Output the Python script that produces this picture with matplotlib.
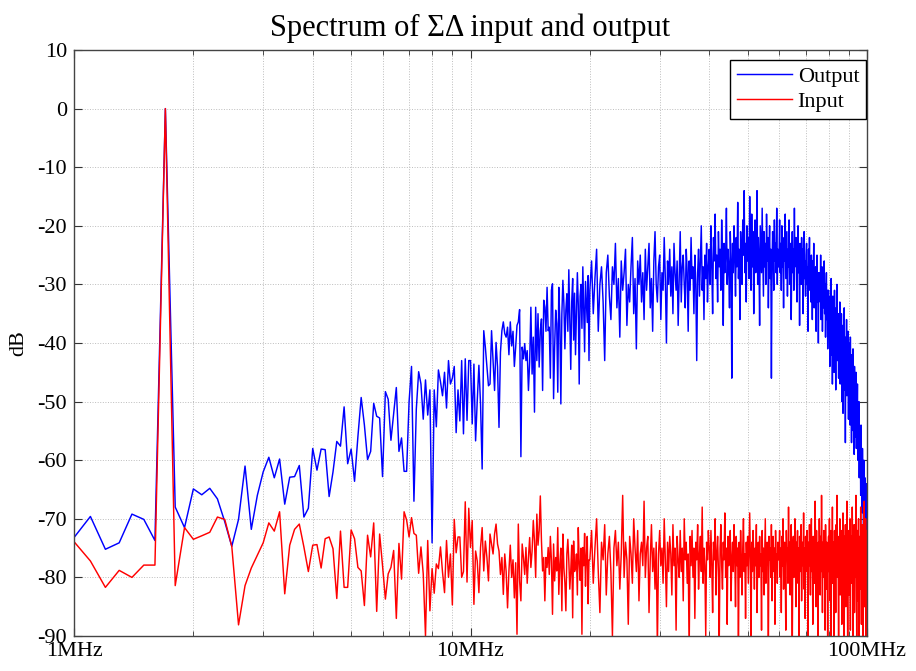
import numpy as np
import matplotlib
matplotlib.use("Agg")
import matplotlib.pyplot as plt
from matplotlib.ticker import LogLocator, NullFormatter

plt.rcParams['font.family'] = ['Liberation Serif', 'DejaVu Serif']
plt.rcParams['axes.unicode_minus'] = False

# spectrum in dB, bins of 0.1 MHz from 1.0 MHz up to 19.9 MHz
out_1_10 = [-73.2, -69.6, -75.2, -74.1, -69.2, -70.1, -73.7, 0.0, -68.0, -71.5,
            -64.9, -65.9, -64.8, -66.6, -70.5, -74.7, -70.1, -61.0, -71.8, -66.0,
            -62.0, -59.5, -63.0, -59.8, -67.5, -62.9, -62.8, -60.9, -69.7, -68.2,
            -58.0, -61.7, -58.1, -58.2, -66.2, -62.0, -56.8, -57.6, -50.9, -60.6,
            -58.1, -63.6, -56.0, -49.3, -54.0, -59.9, -58.5, -50.3, -52.5, -52.8,
            -62.8, -48.3, -49.6, -56.6, -52.0, -47.6, -58.5, -56.2, -61.9, -61.9,
            -50.0, -44.0, -67.0, -51.3, -44.9, -47.0, -53.0, -46.3, -52.3, -48.0,
            -74.1, -48.0, -54.3, -44.6, -46.6, -49.0, -45.0, -51.1, -43.0, -47.0,
            -46.0, -44.0, -55.3, -48.0, -53.3, -43.0, -55.5, -42.7, -53.2, -43.0]
out_10_20 = [-43.0, -53.8, -43.6, -56.7, -49.8, -43.8, -50.4, -61.5, -37.9, -40.7,
             -44.1, -47.3, -47.0, -37.9, -43.0, -48.1, -39.9, -44.1, -54.4, -41.6,
             -37.9, -36.4, -38.4, -39.0, -37.3, -42.0, -36.4, -40.5, -38.0, -44.0,
             -40.7, -37.0, -36.4, -34.3, -59.4, -40.7, -42.7, -40.1, -43.0, -41.3,
             -48.1, -43.3, -33.9, -45.3, -39.0, -51.8, -33.9, -43.0, -35.0, -44.1,
             -37.9, -35.9, -48.1, -32.7, -33.9, -38.0, -30.5, -37.9, -37.3, -46.0,
             -31.0, -29.9, -49.5, -40.7, -34.4, -36.7, -48.4, -30.5, -36.2, -50.4,
             -35.0, -29.3, -33.3, -41.0, -34.4, -31.6, -38.0, -27.5, -36.0, -44.5,
             -33.0, -29.0, -39.5, -31.5, -42.0, -35.0, -28.0, -33.5, -47.0, -32.0,
             -30.0, -37.5, -27.0, -34.0, -41.5, -29.5, -33.0, -36.5, -28.5, -43.0]
# bins of 0.2 MHz from 20 MHz up to 100 MHz
out_20_40 = [-31, -26, -35, -29, -24, -38, -30, -27, -33, -43, -28, -25, -32, -36, -27, -30, -23, -34, -29, -39,
             -26, -31, -28, -24, -37, -30, -33, -27, -22, -35, -29, -41, -26, -30, -25, -33, -28, -36, -24, -31,
             -27, -23, -34, -29, -38, -26, -21, -30, -33, -27, -25, -36, -28, -31, -22, -29, -40, -26, -30, -24,
             -32, -27, -35, -23, -28, -31, -26, -37, -29, -21, -33, -27, -25, -30, -34, -24, -28, -38, -26, -31,
             -22, -29, -27, -35, -25, -30, -43, -28, -24, -32, -26, -20, -31, -27, -36, -25, -29, -23, -33, -27]
out_40_60 = [-24, -30, -20, -27, -35, -22, -26, -18, -29, -25, -33, -21, -27, -24, -31, -19, -26, -37, -23, -28,
             -25, -17, -30, -24, -27, -34, -21, -26, -46, -23, -28, -20, -25, -32, -22, -27, -16, -29, -24, -36,
             -21, -26, -30, -19, -25, -14, -28, -23, -33, -20, -26, -22, -29, -15, -24, -31, -18, -27, -21, -35,
             -25, -19, -28, -23, -14, -30, -22, -26, -37, -20, -24, -28, -17, -25, -32, -21, -27, -23, -30, -18,
             -26, -22, -34, -25, -20, -29, -24, -46, -27, -21, -25, -31, -19, -26, -23, -28, -17, -30, -24, -27]
out_60_80 = [-25, -19, -28, -23, -31, -20, -27, -24, -34, -22, -26, -18, -29, -25, -21, -32, -24, -27, -19, -30,
             -25, -23, -36, -26, -21, -28, -24, -31, -17, -27, -26, -22, -29, -33, -24, -20, -28, -25, -37, -23,
             -27, -30, -22, -26, -24, -35, -28, -21, -29, -26, -32, -25, -23, -30, -27, -38, -24, -28, -22, -31,
             -27, -33, -25, -29, -36, -26, -30, -23, -34, -28, -31, -27, -38, -29, -25, -33, -30, -40, -28, -32,
             -28, -33, -25, -36, -30, -27, -38, -31, -34, -29, -26, -35, -30, -39, -32, -28, -36, -31, -41, -33]
out_80_100 = [-31, -38, -34, -44, -32, -37, -29, -42, -35, -47, -32, -39, -35, -45, -31, -41, -36, -48, -34, -40,
              -30, -43, -37, -35, -46, -35, -42, -33, -47, -38, -44, -35, -50, -39, -37, -52, -38, -43, -34, -48,
              -40, -57, -39, -45, -36, -49, -41, -46, -38, -53, -40, -48, -43, -54, -39, -50, -45, -57, -42, -52,
              -47, -41, -55, -46, -59, -44, -51, -48, -56, -45, -58, -50, -53, -47, -60, -52, -58, -50, -63, -55,
              -60, -57, -66, -54, -62, -59, -69, -58, -64, -61, -74, -60, -67, -70, -63, -71, -65, -73, -64, -69, -67]

in_1_10 = [-73.9, -77.2, -81.7, -78.8, -80.0, -77.9, -77.9, 0.0, -81.4, -71.5,
           -73.5, -72.9, -72.3, -69.7, -70.1, -74.7, -88.1, -81.4, -78.4, -76.2,
           -74.1, -70.7, -72.1, -68.8, -82.8, -74.5, -71.8, -70.9, -74.8, -79.0,
           -74.5, -74.4, -78.4, -73.4, -73.1, -75.1, -83.6, -72.1, -81.7, -81.7,
           -71.9, -73.4, -78.3, -78.9, -84.8, -72.8, -76.5, -70.7, -85.8, -72.6,
           -78.0, -83.7, -79.4, -78.3, -75.4, -87.0, -74.2, -80.3, -68.8, -70.2,
           -73.1, -69.8, -72.5, -72.8, -79.3, -74.8, -79.4, -90.0, -73.7, -85.7,
           -78.5, -82.7, -77.7, -78.5, -74.8, -79.1, -82.6, -73.7, -80.0, -76.0,
           -84.7, -70.1, -75.8, -73.1, -73.1, -80.0, -79.0, -67.1, -80.8, -68.2]
in_10_20 = [-74.9, -70.3, -84.6, -75.5, -77.2, -82.6, -74.9, -71.5, -78.9, -73.8,
            -76.6, -80.6, -72.6, -74.3, -76.0, -72.6, -70.9, -74.3, -75.5, -79.5,
            -76.6, -82.9, -76.0, -79.0, -85.2, -78.9, -74.5, -80.0, -77.0, -83.5,
            -77.5, -89.7, -70.9, -80.6, -84.0, -74.3, -76.6, -79.5, -74.9, -81.0,
            -76.6, -73.2, -78.3, -75.5, -70.3, -73.8, -80.0, -69.2, -74.5, -72.0,
            -66.1, -73.8, -78.9, -76.6, -84.0, -76.6, -78.3, -74.9, -79.5, -73.0,
            -77.2, -86.3, -74.3, -80.6, -76.6, -78.9, -71.5, -82.9, -77.7, -75.0,
            -85.7, -72.6, -78.3, -81.0, -85.7, -76.0, -73.5, -77.2, -82.0, -78.9,
            -74.5, -86.9, -73.8, -79.0, -78.3, -76.0, -83.0, -71.5, -77.5, -80.5,
            -75.0, -89.7, -74.9, -78.0, -72.5, -81.5, -76.5, -73.0, -84.5, -77.0]
in_20_40 = [-77, -72, -81, -75, -70, -79, -86, -74, -77, -71, -83, -76, -73, -79, -90, -75, -72, -78, -74, -82,
            -76, -66, -80, -74, -77, -88, -73, -76, -81, -70, -75, -79, -72, -84, -76, -74, -78, -67, -80, -75,
            -73, -86, -77, -71, -79, -75, -82, -74, -92, -76, -72, -78, -75, -81, -70, -77, -85, -74, -79, -73,
            -76, -83, -71, -78, -75, -89, -73, -77, -80, -72, -79, -75, -84, -70, -77, -74, -81, -76, -93, -73,
            -78, -72, -80, -75, -87, -74, -77, -71, -82, -76, -73, -79, -68, -81, -75, -78, -90, -74, -77, -72]
in_40_60 = [-75, -80, -72, -78, -86, -74, -77, -70, -83, -76, -73, -79, -91, -75, -71, -78, -82, -74, -77, -69,
            -80, -75, -88, -73, -78, -76, -72, -84, -77, -74, -79, -71, -76, -85, -73, -78, -75, -93, -74, -80,
            -72, -77, -83, -75, -70, -79, -76, -87, -74, -78, -73, -81, -75, -69, -77, -90, -74, -79, -72, -76,
            -82, -75, -78, -71, -86, -77, -74, -80, -73, -78, -76, -89, -72, -79, -75, -83, -77, -70, -81, -76,
            -74, -78, -92, -73, -77, -75, -80, -71, -84, -76, -73, -79, -75, -88, -72, -78, -76, -81, -74, -77]
in_60_80 = [-76, -72, -80, -75, -86, -73, -78, -70, -82, -76, -74, -79, -89, -72, -77, -75, -81, -68, -78, -74,
            -83, -76, -71, -79, -92, -75, -73, -80, -77, -70, -78, -85, -74, -76, -72, -81, -75, -90, -73, -79,
            -76, -71, -84, -77, -74, -78, -69, -82, -75, -87, -73, -79, -76, -72, -80, -94, -74, -78, -71, -77,
            -83, -75, -70, -79, -76, -88, -73, -78, -74, -81, -67, -77, -85, -72, -79, -75, -91, -74, -78, -70,
            -76, -83, -73, -79, -66, -77, -86, -74, -80, -72, -78, -75, -89, -71, -77, -82, -74, -79, -93, -76]
in_80_100 = [-73, -79, -70, -84, -76, -72, -90, -75, -78, -68, -81, -74, -77, -93, -72, -79, -75, -86, -71, -77,
             -66, -80, -74, -78, -95, -73, -76, -70, -83, -75, -79, -72, -88, -74, -77, -69, -82, -76, -91, -73,
             -78, -71, -85, -75, -80, -67, -77, -94, -74, -79, -72, -83, -76, -70, -89, -75, -78, -73, -81, -68,
             -77, -92, -74, -79, -71, -86, -76, -73, -80, -66, -78, -90, -75, -72, -84, -77, -70, -95, -74, -79,
             -73, -82, -68, -78, -88, -75, -71, -80, -76, -93, -72, -79, -67, -85, -74, -77, -70, -90, -75, -72, -74]


def freq_axis(fine, coarse):
    # fine part starts at bin 10 (1.0 MHz), coarse part at 20 MHz
    f1 = (10 + np.arange(len(fine))) * 0.1e6
    f2 = (100 + np.arange(len(coarse))) * 0.2e6
    return np.concatenate([f1, f2])


out_fine = out_1_10 + out_10_20
out_coarse = out_20_40 + out_40_60 + out_60_80 + out_80_100
in_fine = in_1_10 + in_10_20
in_coarse = in_20_40 + in_40_60 + in_60_80 + in_80_100

f_out = freq_axis(out_fine, out_coarse)
f_in = freq_axis(in_fine, in_coarse)
db_out = np.array(out_fine + out_coarse, dtype=float)
db_in = np.array(in_fine + in_coarse, dtype=float)

fig = plt.figure(figsize=(9.16, 6.71), dpi=100)
ax = fig.add_axes([74/916, 1 - 636/671, 793/916, 586/671])

ax.plot(f_out, db_out, color=(0, 0, 1), lw=1.05, label='Output')
ax.plot(f_in, db_in, color=(1, 0, 0), lw=1.05, label='Input')

ax.set_xscale('log')
ax.set_xlim(1e6, 1e8)
ax.set_ylim(-90, 10)
ax.set_xticks([1e6, 1e7, 1e8])
ax.set_xticklabels(['1MHz', '10MHz', '100MHz'])
ax.xaxis.set_minor_locator(LogLocator(base=10, subs=np.arange(2, 10)))
ax.xaxis.set_minor_formatter(NullFormatter())
ax.set_yticks(np.arange(-90, 11, 10))

ax.grid(True, which='both', linestyle=':', color='#bdbdbd', linewidth=0.7)
ax.tick_params(which='both', direction='in', top=True, right=True, labelsize=16, color='#333333')
ax.tick_params(which='major', length=6)
ax.tick_params(which='minor', length=3.5)
ax.tick_params(axis='x', pad=4)
ax.tick_params(axis='y', pad=5)
for s in ax.spines.values():
    s.set_color('#444444')
    s.set_linewidth(1.0)

ax.set_ylabel('dB', fontsize=16)
ax.yaxis.set_label_coords(-(74 - 28) / 793, 0.5)
ax.set_title('Spectrum of ΣΔ input and output', fontsize=22, pad=10)

ax.legend(loc='upper right', bbox_to_anchor=(0.9987, 0.983), borderaxespad=0,
          fancybox=False, edgecolor='black', framealpha=1, fontsize=16,
          handlelength=2.5, handletextpad=0.25, borderpad=0.3, labelspacing=0.2)

fig.savefig('out.png', dpi=100)
